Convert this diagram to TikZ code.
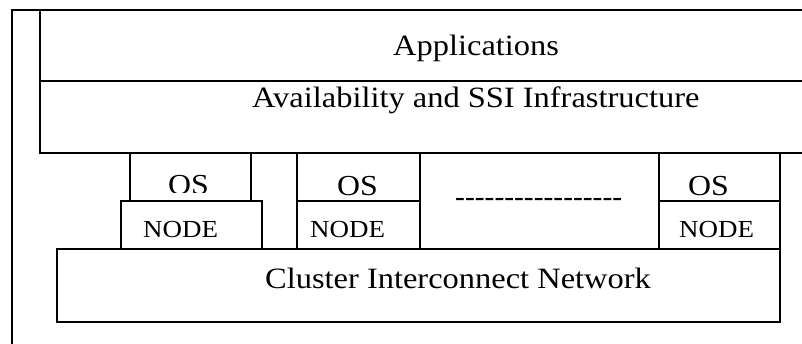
\documentclass[tikz,border=0pt]{standalone}
\usepackage{fontspec}
\setmainfont[FakeStretch=1.1]{Liberation Serif}
\newfontfamily\plainserif{Liberation Serif}
\newcommand{\dashrow}[1]{\foreach \k in {1,...,#1}{-\kern0pt}}
\begin{document}
\begin{tikzpicture}[x=1pt,y=-1pt,
  frame/.style={draw=black,line width=1.8pt,line cap=rect,line join=miter},
  bigtext/.style={anchor=base west,inner sep=0pt,font=\fontsize{29.5}{34}\selectfont},
  ostext/.style={anchor=base west,inner sep=0pt,font=\fontsize{29}{35}\selectfont},
  nodetext/.style={anchor=base west,inner sep=0pt,font=\fontsize{24.5}{29}\selectfont}]
\useasboundingbox (0,0) rectangle (802,343);

% outer frame (open at right and bottom)
\draw[frame] (12,343) -- (12,10) -- (802,10);

% layered top blocks
\draw[frame] (802,153) -- (40,153) -- (40,10);
\draw[frame] (40,81) -- (802,81);

% first column: OS over a wider NODE
\draw[frame] (130,153) rectangle (251,201);
\draw[frame] (121,201) rectangle (262,249);

% second column
\draw[frame] (297,153) rectangle (420,249);
\draw[frame] (297,201) -- (420,201);

% gap marker box
\draw[frame] (420,153) -- (420,249);
\draw[frame] (659,153) -- (659,249);

% last column
\draw[frame] (659,153) rectangle (780,249);
\draw[frame] (659,201) -- (780,201);

% network layer
\draw[frame] (57,249) rectangle (780,322);

% labels
\node[bigtext] (apps) at (393,55) {Applications};
\node[bigtext] (avail) at (252,107) {Availability and SSI Infrastructure};

\begin{scope}
  \clip (132,155) rectangle (249,192.5);
  \node[ostext] (os1) at (168,194) {OS};
\end{scope}
\node[ostext] (os2) at (337,195) {OS};
\node[ostext] (os3) at (688,195) {OS};

\node[nodetext] (node1) at (143,237) {NODE};
\node[nodetext] (node2) at (310,237) {NODE};
\node[nodetext] (node3) at (679,237) {NODE};

\node[anchor=base west,inner sep=0pt,font=\plainserif\fontsize{29.5}{34}\selectfont] (gap) at (455,206) {\dashrow{17}};

\node[bigtext] (net) at (265,288) {Cluster Interconnect Network};
\end{tikzpicture}
\end{document}
